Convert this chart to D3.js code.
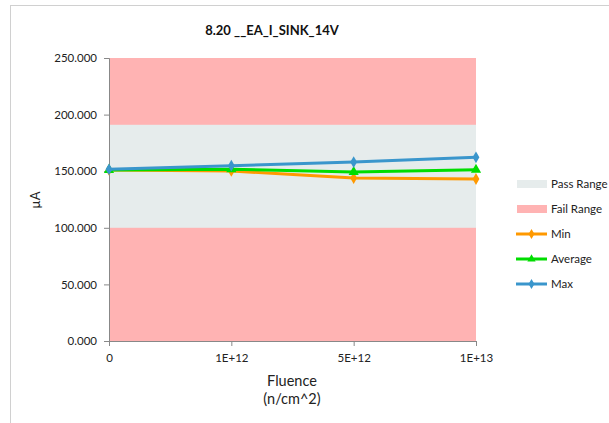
<!DOCTYPE html>
<html><head><meta charset="utf-8">
<script src="https://cdn.jsdelivr.net/npm/d3@7"></script>
<style>body{margin:0;background:#fff}svg{display:block;font-family:Lato,"Open Sans",sans-serif}</style>
</head><body>
<svg id="c" width="609" height="423"></svg>
<script>
const categories = ["0","1E+12","5E+12","1E+13"];
const minVals = [151.1, 150.2, 144.0, 143.1];
const avgVals = [151.1, 151.7, 149.3, 151.3];
const maxVals = [151.7, 154.9, 158.1, 162.3];
const passRange = [100, 191];
const failRange = [0, 250];
const yTicks = [0, 50, 100, 150, 200, 250];

const svg = d3.select("#c");
svg.append("rect").attr("x",10.5).attr("y",5.5).attr("width",640).attr("height",440)
  .attr("fill","#fff").attr("stroke","#d0d0d0");

const L=109, R=476, T=58, B=341;
const x = d3.scalePoint().domain(categories).range([L,R]).padding(0);
const y = d3.scaleLinear().domain([0,250]).range([B,T]);

svg.append("rect").attr("x",L).attr("width",R-L).attr("y",y(failRange[1])).attr("height",y(failRange[0])-y(failRange[1])).attr("fill","#FFB3B3");
svg.append("rect").attr("x",L).attr("width",R-L).attr("y",y(passRange[1])).attr("height",y(passRange[0])-y(passRange[1])).attr("fill","#E6ECEC");

const ya = svg.append("g").attr("transform",`translate(${L},0)`)
  .call(d3.axisLeft(y).tickValues(yTicks).tickFormat(d3.format(".3f")).tickSize(5).tickPadding(7));
const xa = svg.append("g").attr("transform",`translate(0,${B})`)
  .call(d3.axisBottom(x).tickSize(5).tickPadding(8));
[ya,xa].forEach(g=>{
  g.selectAll("path,line").attr("stroke","#888");
  g.selectAll("text").attr("font-size",11.5).attr("fill","#222").attr("font-family","Lato,'Open Sans',sans-serif");
});

const series = [
  {name:"Min", vals:minVals, color:"#FF9900", marker:"diamond"},
  {name:"Average", vals:avgVals, color:"#00DD00", marker:"triangle"},
  {name:"Max", vals:maxVals, color:"#3A96CC", marker:"diamond"}
];
const line = d3.line().x((d,i)=>x(categories[i])).y(d=>y(d));
function sym(m){return d3.symbol().type(m==="diamond"?d3.symbolDiamond:d3.symbolTriangle).size(m==="diamond"?40:45)();}
series.forEach(s=>{
  svg.append("path").attr("d",line(s.vals)).attr("fill","none").attr("stroke",s.color).attr("stroke-width",3);
  svg.selectAll(null).data(s.vals).join("path")
    .attr("transform",(d,i)=>`translate(${x(categories[i])},${y(d)})`)
    .attr("d",sym(s.marker)).attr("fill",s.color);
});

svg.append("text").attr("x",272).attr("y",35).attr("text-anchor","middle").attr("font-weight","bold").attr("font-size",13).attr("fill","#111").text("8.20 __EA_I_SINK_14V");
svg.append("text").attr("x",292).attr("y",386).attr("text-anchor","middle").attr("font-size",14.5).attr("fill","#222").text("Fluence");
svg.append("text").attr("x",292).attr("y",404).attr("text-anchor","middle").attr("font-size",14.5).attr("fill","#222").text("(n/cm^2)");
svg.append("text").attr("transform","translate(40,200) rotate(-90)").attr("text-anchor","middle").attr("font-size",13).attr("fill","#222").text("µA");

const leg = [
  {name:"Pass Range", type:"rect", color:"#E6ECEC"},
  {name:"Fail Range", type:"rect", color:"#FFB3B3"},
  {name:"Min", type:"line", color:"#FF9900", marker:"diamond"},
  {name:"Average", type:"line", color:"#00DD00", marker:"triangle"},
  {name:"Max", type:"line", color:"#3A96CC", marker:"diamond"}
];
leg.forEach((d,i)=>{
  const cy = 184 + i*25;
  if(d.type==="rect"){
    svg.append("rect").attr("x",517).attr("y",cy-4).attr("width",30).attr("height",8).attr("fill",d.color);
  } else {
    svg.append("line").attr("x1",516).attr("x2",547).attr("y1",cy).attr("y2",cy).attr("stroke",d.color).attr("stroke-width",3);
    svg.append("path").attr("transform",`translate(531.5,${cy})`).attr("d",d3.symbol().type(d.marker==="diamond"?d3.symbolDiamond:d3.symbolTriangle).size(30)()).attr("fill",d.color);
  }
  svg.append("text").attr("x",551).attr("y",cy+4).attr("font-size",11.5).attr("fill","#222").text(d.name);
});
</script>
</body></html>
